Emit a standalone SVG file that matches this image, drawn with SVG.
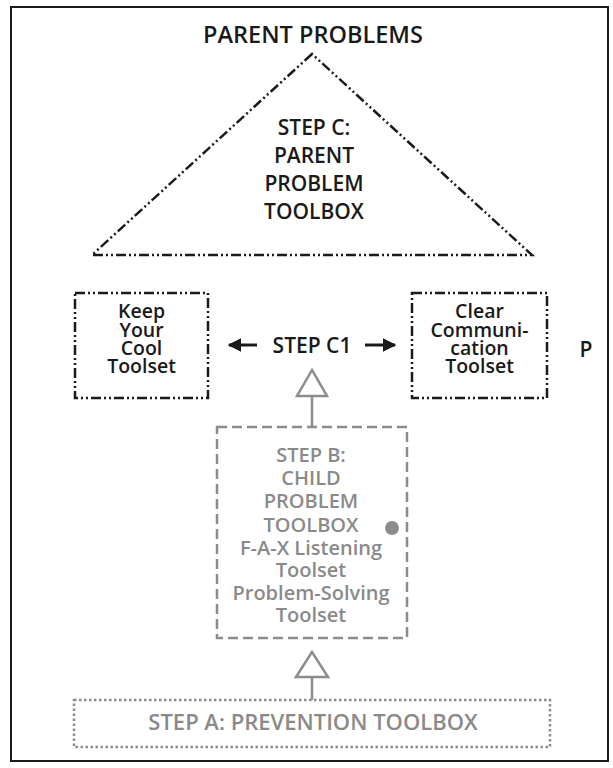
<svg xmlns="http://www.w3.org/2000/svg" width="613" height="768" viewBox="0 0 613 768">
<defs>
<style>
.blk{font-family:"Open Sans","Noto Sans","Liberation Sans",sans-serif;font-weight:600;fill:#1a1a1a;text-anchor:middle;}
.gry{font-family:"Open Sans","Noto Sans","Liberation Sans",sans-serif;font-weight:600;fill:#8a8a8a;text-anchor:middle;}
.dd{fill:none;stroke:#1a1a1a;stroke-width:2.5;stroke-dasharray:10 3 2 3 2 3;}
.gdash{fill:none;stroke:#8c8c8c;stroke-width:2.5;stroke-dasharray:10 5;}
.gdot{fill:none;stroke:#8c8c8c;stroke-width:2.5;stroke-dasharray:2.5 2.5;}
.gline{fill:#fff;stroke:#8c8c8c;stroke-width:2.5;}
</style>
<marker id="ah" viewBox="0 0 10 10" refX="9" refY="5" markerWidth="4.5" markerHeight="4.5" orient="auto-start-reverse" markerUnits="strokeWidth">
<path d="M0,0 L10,5 L0,10 z" fill="#1a1a1a"/>
</marker>
</defs>
<rect x="0" y="0" width="613" height="768" fill="#fff"/>
<rect x="11" y="7" width="597" height="754" fill="none" stroke="#1a1a1a" stroke-width="2"/>

<g id="title">
<text class="blk" x="313" y="43" font-size="23.5">PARENT PROBLEMS</text>
</g>

<g id="stepC">
<polygon class="dd" points="312,54 92,255 532,255"/>
<text class="blk" font-size="21"><tspan x="314" y="135">STEP C:</tspan><tspan x="314" y="163">PARENT</tspan><tspan x="314" y="191">PROBLEM</tspan><tspan x="314" y="219">TOOLBOX</tspan></text>
</g>

<g id="keepCool">
<rect class="dd" x="75" y="293" width="133" height="105"/>
<text class="blk" font-size="19.5"><tspan x="141.5" y="318">Keep</tspan><tspan x="141.5" y="337">Your</tspan><tspan x="141.5" y="355">Cool</tspan><tspan x="141.5" y="373">Toolset</tspan></text>
</g>

<g id="stepC1">
<text class="blk" x="312" y="353" font-size="21">STEP C1</text>
</g>

<g id="clearComm">
<rect class="dd" x="412" y="293" width="135" height="105"/>
<text class="blk" font-size="19.5"><tspan x="479.5" y="318">Clear</tspan><tspan x="479.5" y="337">Communi-</tspan><tspan x="479.5" y="355">cation</tspan><tspan x="479.5" y="373">Toolset</tspan></text>
</g>

<g id="p">
<text class="blk" x="586" y="357" font-size="21">P</text>
</g>

<g id="stepB">
<rect class="gdash" x="217" y="427" width="190" height="211"/>
<text class="gry" font-size="20"><tspan x="311" y="462">STEP B:</tspan><tspan x="311" y="485">CHILD</tspan><tspan x="311" y="508">PROBLEM</tspan><tspan x="311" y="532">TOOLBOX</tspan><tspan x="311" y="555">F-A-X Listening</tspan><tspan x="311" y="577">Toolset</tspan><tspan x="311" y="600">Problem-Solving</tspan><tspan x="311" y="622">Toolset</tspan></text>
<circle cx="392" cy="528" r="7" fill="#8c8c8c"/>
</g>

<g id="stepA">
<rect class="gdot" x="74" y="700" width="476" height="47"/>
<text class="gry" x="313" y="730" font-size="22">STEP A: PREVENTION TOOLBOX</text>
</g>

<g id="connectors">
<line x1="257" y1="345" x2="229" y2="345" stroke="#1a1a1a" stroke-width="3" marker-end="url(#ah)"/>
<line x1="365" y1="345" x2="395" y2="345" stroke="#1a1a1a" stroke-width="3" marker-end="url(#ah)"/>
<line x1="312" y1="427" x2="312" y2="396" stroke="#8c8c8c" stroke-width="2.5"/>
<polygon class="gline" points="312,370 297,396 327,396"/>
<line x1="312" y1="700" x2="312" y2="677" stroke="#8c8c8c" stroke-width="2.5"/>
<polygon class="gline" points="312,652 296,677 328,677"/>
</g>
</svg>
